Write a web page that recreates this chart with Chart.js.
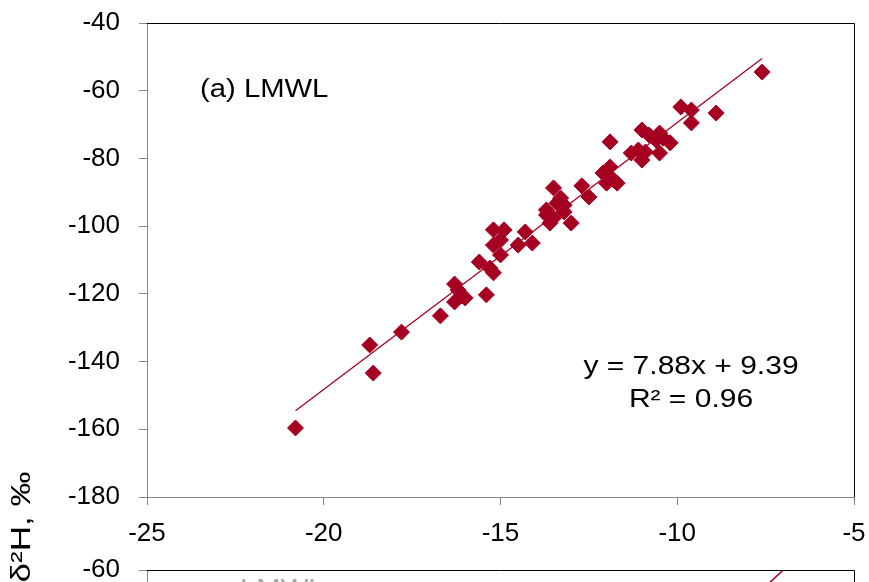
<!DOCTYPE html>
<html>
<head>
<meta charset="utf-8">
<script src="https://cdn.jsdelivr.net/npm/chart.js@4.4.1/dist/chart.umd.min.js"></script>
<style>
  html, body { margin: 0; padding: 0; background: #fff; overflow: hidden; }
  #wrap { position: relative; width: 869px; height: 582px; overflow: hidden; }
  #c1 { position: absolute; left: 0; top: 0; }
  #c2 { position: absolute; left: 0; top: 547px; }
</style>
</head>
<body>
<div id="wrap">
  <canvas id="c2" width="869" height="582"></canvas>
  <canvas id="c1" width="869" height="582"></canvas>
</div>
<script>
/* ── data ─────────────────────────────────────────────────────────── */
const d18O = [-20.8, -18.7, -18.6, -17.8, -16.7, -16.3, -16.2, -16.1, -16.3, -16.0,
              -15.4, -15.6, -15.3, -15.2, -15.0, -15.2, -15.2, -14.9, -15.0, -14.5,
              -14.3, -14.1, -13.7, -13.6, -13.5, -13.4, -13.2, -13.3, -13.0, -13.5,
              -13.7, -13.2, -12.7, -12.5, -12.1, -12.0, -11.9, -11.8, -12.0, -11.7,
              -11.9, -11.3, -11.1, -11.0, -10.9, -11.0, -10.8, -10.5, -10.2, -10.5,
              -10.6, -10.4, -9.9, -9.6, -9.6, -8.9, -7.6];
const d2H  = [-159.6, -135.1, -143.4, -131.3, -126.5, -117.1, -118.9, -120.6, -122.4, -121.2,
              -120.3, -110.6, -112.4, -113.8, -108.5, -105.6, -101.1, -101.1, -104.1, -105.6,
              -101.7, -105.0, -95.2, -99.1, -88.7, -93.2, -95.8, -91.7, -99.1, -97.6,
              -96.7, -93.8, -88.1, -91.4, -84.3, -84.9, -82.5, -86.4, -87.3, -87.3,
              -75.1, -78.4, -77.5, -80.5, -78.1, -71.6, -73.1, -72.5, -75.4, -78.4,
              -74.6, -74.0, -64.8, -65.7, -69.5, -66.6, -54.5];
// fitted LMWL endpoints
const trendX = [-20.8, -7.6];
const trendY = [-154.5, -50.5];
// panel (b), only its top edge shows in the crop
const trend2X = [-6.5, -17.4];
const trend2Y = [-55.2, -160];

const xTicks = { min: -25, max: -5, step: 5 };
const yTicks = { min: -180, max: -40, step: 20 };

const panelLabel = '(a) LMWL';
const eqText = 'y = 7.88x + 9.39';
const r2Text = 'R² = 0.96';
const yTitle = 'δ²H, ‰';

/* ── shared look ──────────────────────────────────────────────────── */
const RED  = '#A50021';
const AXIS = '#868686';
const FONT = "'Liberation Sans', Arial, sans-serif";

// top + right edge of the plot area are black
const frame = {
  id: 'frame',
  afterDraw(chart) {
    const { ctx, chartArea: a } = chart;
    ctx.save();
    ctx.strokeStyle = '#000';
    ctx.lineWidth = 1;
    ctx.beginPath();
    ctx.moveTo(a.left, a.top + 0.5);
    ctx.lineTo(a.right + 0.5, a.top + 0.5);
    ctx.lineTo(a.right + 0.5, a.bottom);
    ctx.stroke();
    ctx.restore();
  }
};

// the source figure's text is stretched sideways, so squeeze-draw wider
function wideText(ctx, txt, x, y, sx) {
  ctx.save();
  ctx.translate(x, y);
  ctx.scale(sx, 1);
  ctx.fillText(txt, 0, 0);
  ctx.restore();
}

function baseScales(yMin, yMax, showX) {
  return {
    x: {
      type: 'linear', min: xTicks.min, max: xTicks.max,
      ticks: { stepSize: xTicks.step, display: showX, color: '#000', padding: 13, font: { family: FONT, size: 26 } },
      grid: { drawOnChartArea: false, color: AXIS, tickLength: 8 },
      border: { color: AXIS, width: 1 },
      afterFit: s => { s.height = 85; s.paddingLeft = 0; s.paddingRight = 0; },
    },
    y: {
      type: 'linear', min: yMin, max: yMax,
      ticks: { stepSize: yTicks.step, color: '#000', padding: 19, font: { family: FONT, size: 26 } },
      grid: { drawOnChartArea: false, color: AXIS, tickLength: 8 },
      border: { color: AXIS, width: 1 },
      afterFit: s => { s.width = 147; s.paddingTop = 0; s.paddingBottom = 0; },
    },
  };
}

/* ── panel (a) ────────────────────────────────────────────────────── */
const labels = {
  id: 'labels',
  afterDraw(chart) {
    const { ctx } = chart;
    ctx.save();
    ctx.fillStyle = '#000';
    ctx.font = `25px ${FONT}`;
    ctx.textBaseline = 'middle';
    ctx.textAlign = 'left';
    wideText(ctx, panelLabel, 200, 90, 1.17);
    ctx.textAlign = 'center';
    wideText(ctx, eqText, 691, 367, 1.2);
    wideText(ctx, r2Text, 691, 400, 1.2);
    // shared y title, spans both panels
    ctx.translate(22, 527);
    ctx.rotate(-Math.PI / 2);
    ctx.font = `28px ${FONT}`;
    wideText(ctx, yTitle, 0, 0, 1.25);
    ctx.restore();
  }
};

new Chart(document.getElementById('c1'), {
  type: 'scatter',
  data: {
    datasets: [
      {
        label: 'samples',
        data: d18O.map((x, i) => ({ x, y: d2H[i] })),
        pointStyle: 'rectRot',
        pointRadius: 8,
        backgroundColor: RED,
        borderColor: RED,
        borderWidth: 1,
      },
      {
        label: 'LMWL',
        type: 'line',
        data: trendX.map((x, i) => ({ x, y: trendY[i] })),
        borderColor: RED,
        borderWidth: 1.3,
        pointRadius: 0,
        fill: false,
      },
    ],
  },
  options: {
    responsive: false,
    animation: false,
    layout: { padding: { top: 23, right: 15, left: 0, bottom: 0 } },
    plugins: { legend: { display: false }, tooltip: { enabled: false } },
    scales: baseScales(yTicks.min, yTicks.max, true),
  },
  plugins: [frame, labels],
});

/* ── panel (b), cropped ───────────────────────────────────────────── */
const faded = {
  id: 'faded',
  afterDraw(chart) {
    const { ctx } = chart;
    ctx.save();
    ctx.fillStyle = '#a6a6a6';
    ctx.font = `25px ${FONT}`;
    ctx.textBaseline = 'top';
    wideText(ctx, 'LMWL', 240, 31, 1.17);
    ctx.restore();
  }
};

new Chart(document.getElementById('c2'), {
  type: 'scatter',
  data: {
    datasets: [{
      label: 'line b',
      type: 'line',
      data: trend2X.map((x, i) => ({ x, y: trend2Y[i] })),
      borderColor: RED,
      borderWidth: 1.5,
      pointRadius: 0,
      fill: false,
    }],
  },
  options: {
    responsive: false,
    animation: false,
    layout: { padding: { top: 23, right: 15, left: 0, bottom: 0 } },
    plugins: { legend: { display: false }, tooltip: { enabled: false } },
    scales: baseScales(-200, -60, false),
  },
  plugins: [frame, faded],
});
</script>
</body>
</html>
